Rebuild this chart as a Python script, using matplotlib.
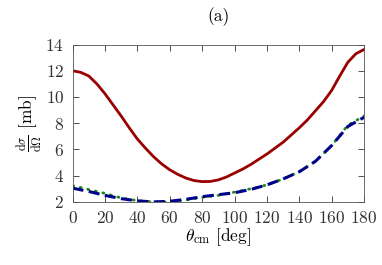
import numpy as np
import matplotlib
matplotlib.use("Agg")
import matplotlib.pyplot as plt

plt.rcParams["font.family"] = "serif"
plt.rcParams["font.serif"] = ["cmr10"]
plt.rcParams["mathtext.fontset"] = "cm"
plt.rcParams["axes.formatter.use_mathtext"] = True

# ---------- data ----------
theta_red = np.arange(0, 181, 5)
sigma_red = [12.0, 11.88, 11.6, 11.0, 10.25, 9.4, 8.55, 7.65, 6.8, 6.1,
             5.45, 4.9, 4.45, 4.1, 3.82, 3.63, 3.55, 3.56, 3.68, 3.9,
             4.2, 4.5, 4.85, 5.25, 5.65, 6.1, 6.55, 7.1, 7.65, 8.25,
             8.95, 9.65, 10.5, 11.6, 12.65, 13.3, 13.62]

theta = np.arange(0, 181, 10)
sigma_blue = [3.05, 2.8, 2.5, 2.25, 2.08, 2.0, 2.05, 2.2, 2.4, 2.55,
              2.7, 2.95, 3.3, 3.75, 4.3, 5.1, 6.3, 7.75, 8.45]
sigma_green = [3.25, 2.95, 2.65, 2.3, 2.1, 2.0, 2.0, 2.15, 2.35, 2.5,
               2.75, 3.0, 3.3, 3.75, 4.3, 5.1, 6.3, 7.85, 8.55]

fig = plt.figure(figsize=(3.82, 2.65), dpi=100)
ax = fig.add_axes([0.190, 0.238, 0.763, 0.594])

ax.plot(theta_red, sigma_red, color="#990000", lw=2.0)
ax.plot(theta, sigma_green, color="#1a8a1a", lw=2.0, ls=(0, (0.4, 2.4)),
        dash_capstyle="round")
ax.plot(theta, sigma_blue, color="#00008b", lw=2.2, ls=(0, (3.6, 1.8)))

ax.set_xlim(0, 180)
ax.set_ylim(2, 14)
ax.set_xticks(range(0, 181, 20))
ax.set_yticks(range(2, 15, 2))
ax.tick_params(direction="in", top=True, right=True, length=4,
               labelsize=12.5, width=0.6, colors="#333333", pad=6)
for s in ax.spines.values():
    s.set_linewidth(0.6)
    s.set_color("#555555")

ax.set_xlabel(r"$\theta_{\rm cm}$ [deg]", fontsize=12.5, labelpad=0)
ax.set_ylabel(r"$\frac{\mathrm{d}\sigma}{\mathrm{d}\Omega}$ [mb]",
              fontsize=12.5, labelpad=1)
ax.set_title("(a)", fontsize=12.5, pad=17)

fig.savefig("out.png", dpi=100)
